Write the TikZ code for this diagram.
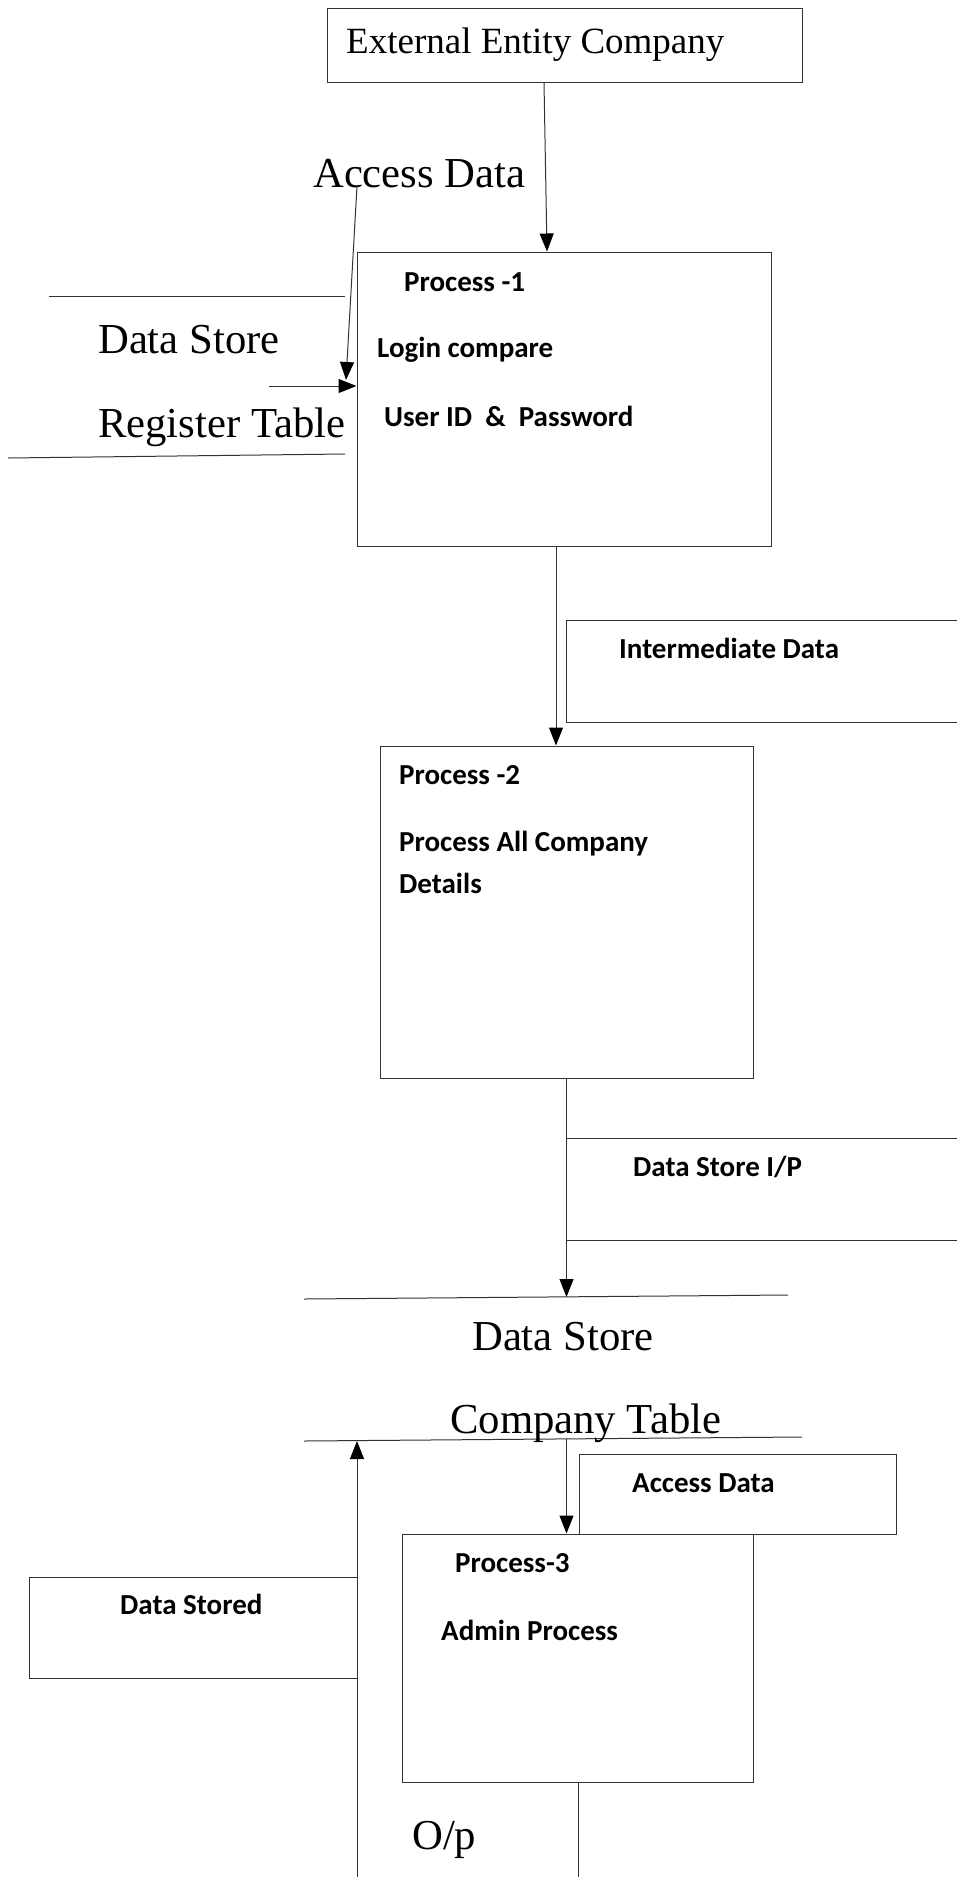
\documentclass[tikz,border=0pt]{standalone}
\usepackage{fontspec}
\setmainfont{Liberation Serif}
\newfontfamily\carl{Carlito}
\usetikzlibrary{arrows.meta}
\begin{document}
\begin{tikzpicture}[x=1pt,y=-1pt,
  box/.style={draw=black!80, line width=1pt, rectangle, inner sep=0pt},
  ln/.style={draw=black!80, line width=1pt},
  arr/.style={draw=black!80, line width=1pt, -{Triangle[length=18pt,width=14pt,color=black]}},
  serif/.style={font=\fontsize{42.7}{50}\selectfont, inner sep=0pt, anchor=base west},
  lbl/.style={font=\carl\bfseries\fontsize{29}{34}\selectfont, inner sep=0pt, anchor=base west}]
\useasboundingbox (0,0) rectangle (957,1877);
% boxes
\node[box, minimum width=475pt, minimum height=74pt] (ext) at (564.5,45) {};
\node[box, minimum width=414pt, minimum height=294pt] (p1) at (564,399) {};
\node[box, minimum width=373pt, minimum height=332pt] (p2) at (566.5,912) {};
\node[box, minimum width=317pt, minimum height=80pt] (accbox) at (737.5,1494) {};
\node[box, minimum width=351pt, minimum height=248pt] (p3) at (577.5,1658) {};
\node[box, minimum width=328pt, minimum height=101pt] (stored) at (193,1627.5) {};
% open boxes on the right
\coordinate (i1) at (957,620); \coordinate (i2) at (566.5,620);
\coordinate (i3) at (566.5,722); \coordinate (i4) at (957,722);
\draw[ln] (i1) -- (i2) -- (i3) -- (i4);
\coordinate (d1) at (957,1138); \coordinate (d2) at (566.5,1138);
\coordinate (d3) at (566.5,1240); \coordinate (d4) at (957,1240);
\draw[ln] (d1) -- (d2) -- (d3) -- (d4);
% data store lines (register table)
\coordinate (r1) at (49,296); \coordinate (r2) at (345,296);
\coordinate (r3) at (8,458); \coordinate (r4) at (345,454);
\draw[ln] (r1) -- (r2);
\draw[ln] (r3) -- (r4);
% data store lines (company table)
\coordinate (c1) at (304,1299); \coordinate (c2) at (788,1295);
\coordinate (c3) at (304,1441); \coordinate (c4) at (802,1437);
\draw[ln] (c1) -- (c2);
\draw[ln] (c3) -- (c4);
% texts
\node[serif, font=\fontsize{37}{44}\selectfont] (tExt) at (346,53.5) {External Entity Company};
\node[serif] (tAcc) at (313,187.5) {Access Data};
\node[serif] (tDS1) at (98,353.5) {Data Store};
\node[serif] (tReg) at (98,437.5) {Register Table};
\node[lbl] (tP1) at (404,291) {Process -1};
\node[lbl] (tLog) at (377,357) {Login compare};
\node[lbl] (tUID) at (384,426) {User ID \ \& \ Password};
\node[lbl] (tInt) at (619,658.5) {Intermediate Data};
\node[lbl] (tP2) at (399,784.5) {Process -2};
\node[lbl] (tPAC) at (399,851.5) {Process All Company};
\node[lbl] (tDet) at (399,893.5) {Details};
\node[lbl] (tDSIP) at (633,1176.5) {Data Store I/P};
\node[serif] (tDS2) at (472,1350.5) {Data Store};
\node[serif] (tCT) at (450,1433) {Company Table};
\node[lbl] (tAcc2) at (632,1492.5) {Access Data};
\node[lbl] (tP3) at (455,1572) {Process-3};
\node[lbl] (tStored) at (120,1614) {Data Stored};
\node[lbl] (tAdm) at (441,1640.5) {Admin Process};
\node[serif] (tOp) at (412,1849) {O/p};
% connectors
\draw[arr] ([xshift=-20.5pt]ext.south) -- ([xshift=-17pt]p1.north);
\coordinate (a1) at (357,186);
\coordinate (a2) at (346,380);
\draw[arr] (a1) -- (a2);
\coordinate (h1) at (269,386);
\draw[arr] (h1) -- ([yshift=13pt]p1.west);
\draw[arr] ([xshift=-8pt]p1.south) -- ([xshift=-10.5pt]p2.north);
\coordinate (s1) at (566.5,1297);
\draw[arr] (p2.south) -- (s1);
\coordinate (s2) at (566.5,1439);
\draw[arr] (s2) -- ([xshift=-11pt]p3.north);
\coordinate (u1) at (357,1877);
\coordinate (u2) at (357,1441);
\draw[arr] (u1) -- (u2);
\coordinate (o1) at (578,1877);
\draw[ln] ([xshift=0.5pt]p3.south) -- (o1);
\end{tikzpicture}
\end{document}
